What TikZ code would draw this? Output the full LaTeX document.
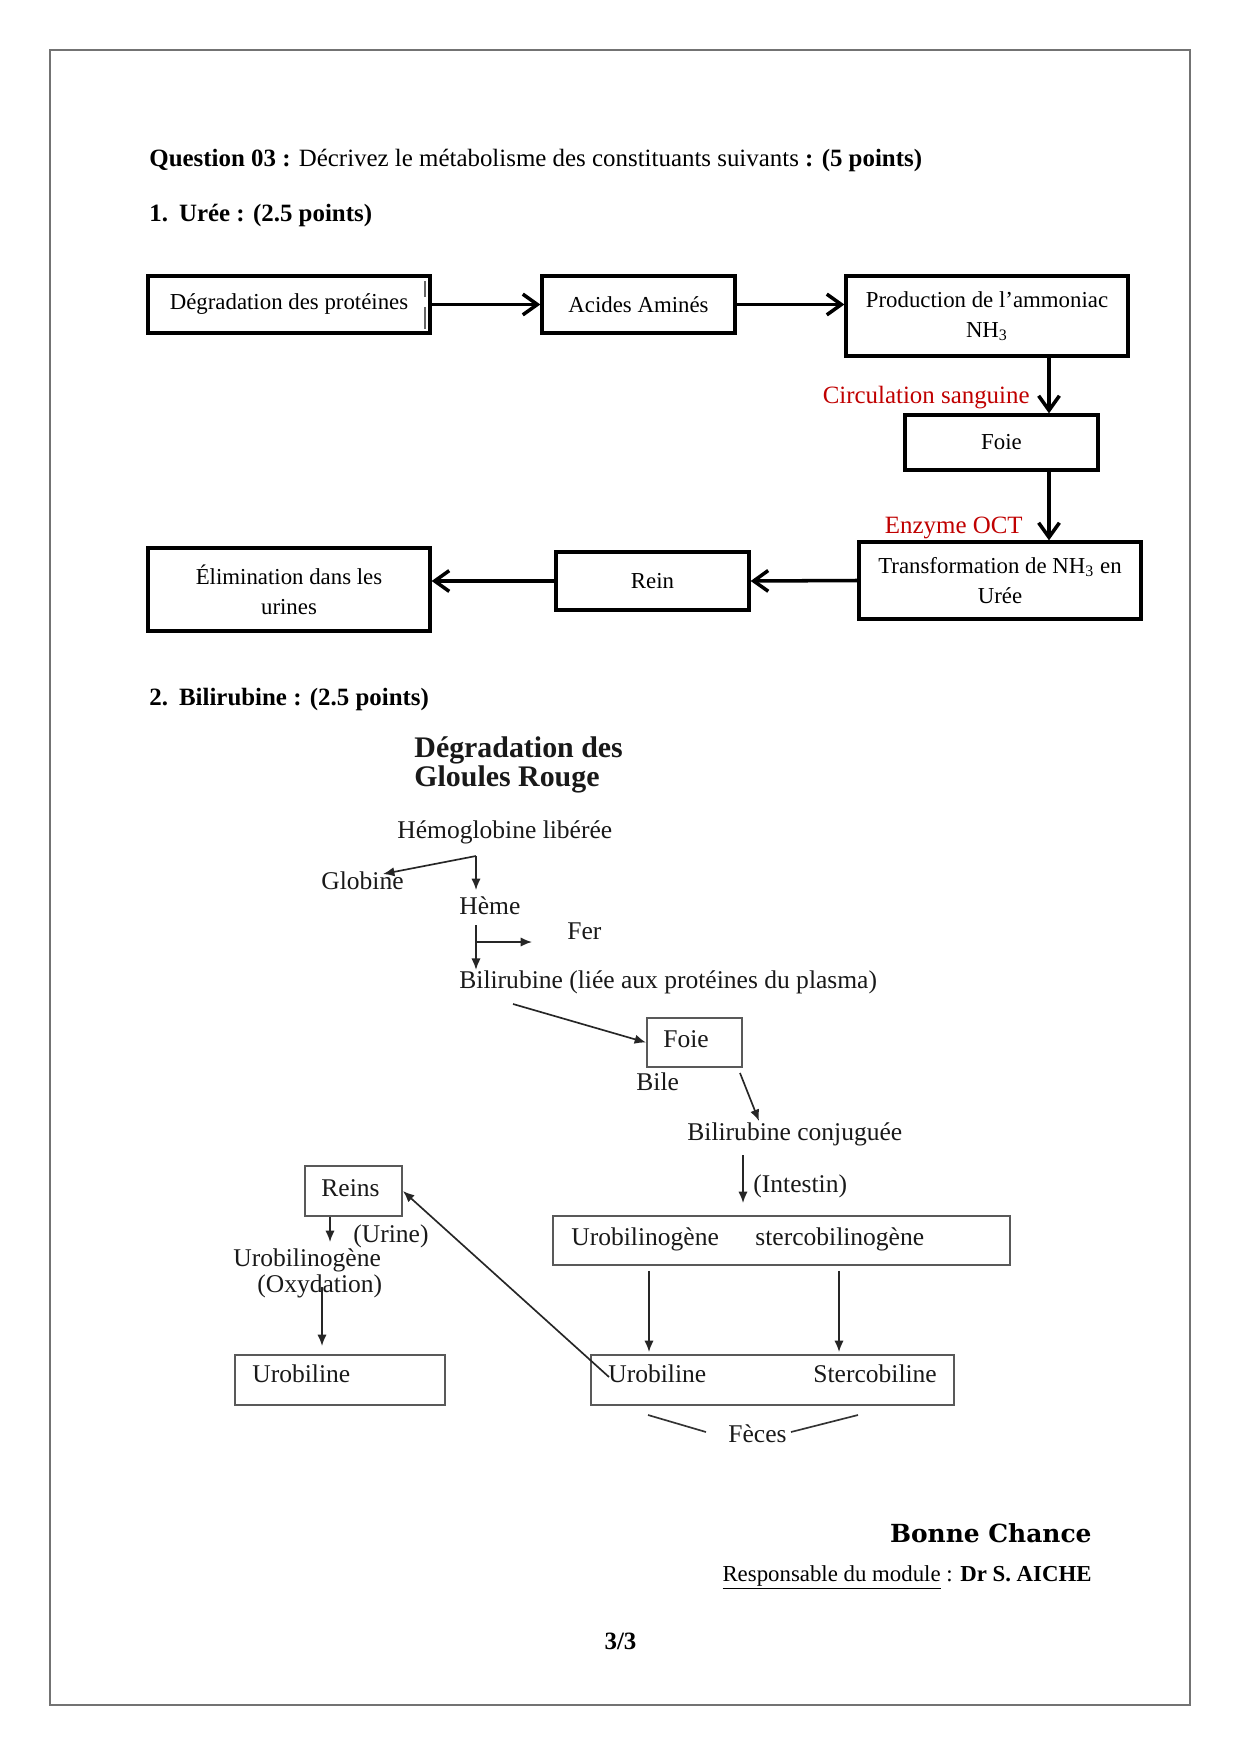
\documentclass[tikz,border=0pt]{standalone}
\usepackage{fontspec}
\setmainfont{Liberation Serif}
\newfontfamily\bcfont{DejaVu Serif}
\usetikzlibrary{arrows.meta}
\definecolor{redlab}{RGB}{192,0,0}
\def\pxl{0.4818pt}
\begin{document}
\begin{tikzpicture}[x=0.4818pt,y=-0.4818pt,
  ubox/.style={draw, line width=1.6pt, rectangle, inner sep=0pt, align=center, font=\fontsize{11}{14.5}\selectfont},
  bigarr/.style={line width=1.7pt, -{Straight Barb[length=7pt,width=10pt,line width=1.7pt]}},
  bbox/.style={draw=black!65, line width=0.9pt, rectangle, inner sep=0pt},
  sarr/.style={draw=black!85, line width=0.8pt, -{Latex[length=5.5pt,width=4.5pt]}},
  btxt/.style={inner sep=0pt, anchor=base west, font=\fontsize{12.3}{14}\selectfont, text=black!90},
  htxt/.style={inner sep=0pt, anchor=base west, font=\fontsize{12}{14}\selectfont},
  redtxt/.style={inner sep=0pt, anchor=base east, text=redlab, font=\fontsize{12}{14}\selectfont},
  ttl/.style={inner sep=0pt, anchor=base west, font=\fontsize{14.4}{17}\selectfont\bfseries, text=black!90}
]
\useasboundingbox (0,0) rectangle (1240,1755);
\fill[white] (0,0) rectangle (1240,1755);
\draw[black!55, line width=1pt] (50,50) rectangle (1190,1705);

% ---- header
\node[htxt] (q) at (149,167) {\textbf{Question 03 :} Décrivez le métabolisme des constituants suivants \textbf{: (5 points)}};
\node[htxt] (s1) at (149,222) {\textbf{\makebox[14.3pt][l]{1.}Urée : (2.5 points)}};

% ---- Urée
\node[ubox, minimum width=282*\pxl, minimum height=57*\pxl] (b1) at (289,304.5) {Dégradation des protéines};
\node[ubox, minimum width=193*\pxl, minimum height=57*\pxl] (b2) at (638.5,304.5) {Acides Aminés};
\node[ubox, minimum width=282*\pxl, minimum height=80*\pxl] (b3) at (987,316) {Production de l’ammoniac\\NH\textsubscript{3}};
\node[ubox, minimum width=193*\pxl, minimum height=55*\pxl] (f1) at (1001.5,442.5) {Foie};
\node[ubox, minimum width=282*\pxl, minimum height=77*\pxl] (tr) at (1000,580.5) {Transformation de NH\textsubscript{3} en\\Urée};
\node[ubox, minimum width=193*\pxl, minimum height=58*\pxl] (rn) at (652.5,581) {Rein};
\node[ubox, minimum width=282*\pxl, minimum height=83*\pxl] (el) at (289,589.5) {Élimination dans les\\urines};
\draw[black!60, line width=0.7pt] (425,281) -- (425,297) (425,307) -- (425,329);

\coordinate (vx) at (1049,0);
\draw[bigarr] (b1.east) -- (b2.west);
\draw[bigarr] (b2.east) -- (b2.east -| b3.west);
\draw[bigarr] (b3.south -| vx) -- (f1.north -| vx);
\draw[bigarr] (f1.south -| vx) -- (tr.north -| vx);
\draw[bigarr] (tr.west) -- (rn.east);
\draw[bigarr] (rn.west) -- (rn.west -| el.east);

\node[redtxt] (cs) at (1030,403) {Circulation sanguine};
\node[redtxt] (eo) at (1023,533) {Enzyme OCT};

% ---- Bilirubine
\node[htxt] (s2) at (149,705) {\textbf{\makebox[14.3pt][l]{2.}Bilirubine : (2.5 points)}};
\node[ttl] (t1) at (414,757) {Dégradation des};
\node[ttl] (t2) at (414,786) {Gloules Rouge};

\node[btxt] (hemo) at (397,838) {Hémoglobine libérée};
\node[btxt] (glob) at (321,889) {Globine};
\node[btxt] (heme) at (459,914) {Hème};
\node[btxt] (fer) at (567,939) {Fer};
\node[btxt] (bili) at (459,988) {Bilirubine (liée aux protéines du plasma)};

\node[bbox, minimum width=95*\pxl, minimum height=49*\pxl] (f2) at (694.5,1042.5) {};
\node[btxt] (f2t) at (663,1047) {Foie};
\node[btxt] (bile) at (636,1090) {Bile};
\node[btxt] (conj) at (687,1140) {Bilirubine conjuguée};
\node[btxt] (intest) at (753,1192) {(Intestin)};

\node[bbox, minimum width=457*\pxl, minimum height=49*\pxl] (ug) at (781.5,1240.5) {};
\node[btxt] (ug1) at (571,1245) {Urobilinogène};
\node[btxt] (ug2) at (755,1245) {stercobilinogène};

\node[bbox, minimum width=363*\pxl, minimum height=50*\pxl] (ub) at (772.5,1380) {};
\node[btxt] (ub1) at (608,1382) {Urobiline};
\node[btxt] (ub2) at (813,1382) {Stercobiline};

\node[bbox, minimum width=97*\pxl, minimum height=50*\pxl] (rs) at (353.5,1191) {};
\node[btxt] (rst) at (321,1196) {Reins};
\node[btxt] (urine) at (353,1242) {(Urine)};
\node[btxt] (ugl) at (233,1266) {Urobilinogène};
\node[btxt] (oxy) at (257,1292) {(Oxydation)};

\node[bbox, minimum width=210*\pxl, minimum height=50*\pxl] (ul) at (340,1380) {};
\node[btxt] (ult) at (252,1382) {Urobiline};

\node[btxt] (feces) at (728,1442) {Fèces};

% connectors
\coordinate (hbr) at (476,856);
\coordinate (hemetip) at (476,890);
\coordinate (gtip) at (383,874);
\coordinate (fv) at (476,925);
\coordinate (fh) at (476,942);
\coordinate (fertip) at (532,942);
\coordinate (bs) at (513,1004);
\coordinate (fs) at (740,1073);
\coordinate (ct) at (759,1121);
\coordinate (cs1) at (743,1155);
\coordinate (cs2) at (743,1203);
\coordinate (a1) at (649,0);
\coordinate (a2) at (839,0);
\coordinate (ust) at (609,1377);
\coordinate (rx) at (330,0);
\coordinate (rtip) at (330,1242);
\coordinate (ox) at (322,1287);
\coordinate (fl1) at (648,1415);
\coordinate (fl2) at (706,1432);
\coordinate (fr1) at (791,1432);
\coordinate (fr2) at (858,1415);

\draw[sarr] (hbr) -- (hemetip);
\draw[sarr] (hbr) -- (gtip);
\draw[sarr] (fv) -- (bili.north -| fv);
\draw[sarr] (fh) -- (fertip);
\draw[sarr] (bs) -- (f2.west);
\draw[sarr] (fs) -- (ct);
\draw[sarr] (cs1) -- (cs2);
\draw[sarr, shorten <=2.4pt, shorten >=1pt] (ug.south -| a1) -- (ub.north -| a1);
\draw[sarr, shorten <=2.4pt, shorten >=1pt] (ug.south -| a2) -- (ub.north -| a2);
\draw[sarr] (ust) -- (rs.east);
\draw[sarr] (rs.south -| rx) -- (rtip);
\draw[sarr, shorten >=3.9pt] (ox) -- (ul.north -| ox);
\draw[draw=black!80, line width=0.8pt] (fl1) -- (fl2) (fr1) -- (fr2);

% ---- footer
\node[inner sep=0pt, anchor=base east, font=\bcfont\bfseries\fontsize{12}{14}\selectfont] (bc) at (1092,1542) {Bonne Chance};
\node[inner sep=0pt, anchor=base east, font=\fontsize{11}{13}\selectfont] (resp) at (1092,1581) {\underline{Responsable du module} : \textbf{Dr S. AICHE}};
\node[inner sep=0pt, anchor=base, font=\fontsize{12}{14}\selectfont\bfseries] (pg) at (620.5,1649) {3/3};
\end{tikzpicture}
\end{document}
